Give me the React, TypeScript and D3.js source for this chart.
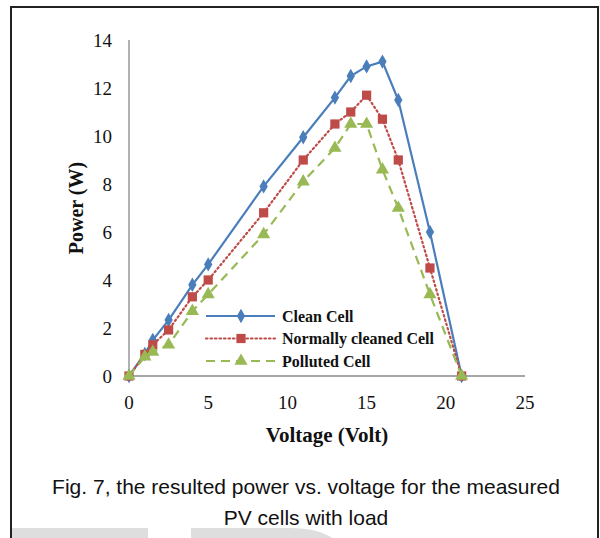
import * as d3 from 'd3';

const voltage = [0, 1, 1.5, 2.5, 4, 5, 8.5, 11, 13, 14, 15, 16, 17, 19, 21];
const cleanCell = [0, 0.92, 1.5, 2.33, 3.8, 4.65, 7.9, 9.95, 11.6, 12.5, 12.9, 13.1, 11.5, 6.0, 0];
const normallyCleaned = [0, 0.9, 1.3, 1.92, 3.3, 4.0, 6.8, 9.0, 10.5, 11.0, 11.7, 10.7, 9.0, 4.5, 0];
const pollutedCell = [0, 0.8, 1.0, 1.3, 2.7, 3.4, 5.9, 8.1, 9.5, 10.5, 10.5, 8.6, 7.0, 3.4, 0];

const xTicks = [0, 5, 10, 15, 20, 25];
const yTicks = [0, 2, 4, 6, 8, 10, 12, 14];

const seriesNames = ['Clean Cell', 'Normally cleaned Cell', 'Polluted Cell'];

const W = 600;
const H = 538;
const plot = { left: 129, right: 525, top: 40, bottom: 376 };

const serif = '"Liberation Serif", "Times New Roman", serif';
const sans = '"Liberation Sans", Arial, sans-serif';

type Pt = { x: number; y: number };

export default function App() {
  const x = d3.scaleLinear().domain([0, 25]).range([plot.left, plot.right]);
  const y = d3.scaleLinear().domain([0, 14]).range([plot.bottom, plot.top]);

  const toPts = (vals: number[]): Pt[] => vals.map((v, i) => ({ x: voltage[i], y: v }));
  const line = d3
    .line<Pt>()
    .x((d) => x(d.x))
    .y((d) => y(d.y));

  const series = [
    { name: seriesNames[0], data: toPts(cleanCell), color: '#4a7ebb', dash: '', cap: 'butt', marker: 'diamond' },
    { name: seriesNames[1], data: toPts(normallyCleaned), color: '#be4b48', dash: '1.5,3', cap: 'round', marker: 'square' },
    { name: seriesNames[2], data: toPts(pollutedCell), color: '#98b954', dash: '9,6', cap: 'butt', marker: 'triangle' },
  ];

  const markerPath = (kind: string) => {
    if (kind === 'diamond') return d3.symbol(d3.symbolDiamond, 60)();
    if (kind === 'square') return d3.symbol(d3.symbolSquare, 85)();
    return d3.symbol(d3.symbolTriangle, 75)();
  };

  return (
    <svg
      width={W}
      height={H}
      style={{ position: 'absolute', left: 0, top: 0, background: '#fff' }}
    >
      {/* faint watermark shapes at the bottom */}
      <rect x={12} y={528} width={136} height={10} fill="#dedede" />
      <path d="M191,538 V528 H290 Q318,528 332,538 Z" fill="#dedede" />

      {/* frame */}
      <path d={`M11,${H} V7 H598 V${H}`} fill="none" stroke="#222" strokeWidth={2} />

      {/* axes */}
      <line x1={plot.left} x2={plot.left} y1={plot.top} y2={plot.bottom} stroke="#888" strokeWidth={1.3} />
      <line x1={plot.left} x2={plot.right} y1={plot.bottom} y2={plot.bottom} stroke="#888" strokeWidth={1.3} />

      {yTicks.map((t) => (
        <text
          key={`y${t}`}
          x={112}
          y={y(t) + 6.5}
          textAnchor="end"
          fontFamily={serif}
          fontSize={19}
          fill="#111"
        >
          {t}
        </text>
      ))}
      {xTicks.map((t) => (
        <text
          key={`x${t}`}
          x={x(t)}
          y={409}
          textAnchor="middle"
          fontFamily={serif}
          fontSize={19}
          fill="#111"
        >
          {t}
        </text>
      ))}

      <text
        transform={`translate(83,${(plot.top + plot.bottom) / 2}) rotate(-90)`}
        textAnchor="middle"
        fontFamily={serif}
        fontWeight="bold"
        fontSize={20}
        fill="#111"
      >
        Power (W)
      </text>
      <text
        x={327}
        y={442}
        textAnchor="middle"
        fontFamily={serif}
        fontWeight="bold"
        fontSize={21}
        fill="#111"
      >
        Voltage (Volt)
      </text>

      {/* series */}
      {series.map((s) => (
        <g key={s.name}>
          <path
            d={line(s.data) ?? ''}
            fill="none"
            stroke={s.color}
            strokeWidth={2.2}
            strokeDasharray={s.dash}
            strokeLinecap={s.cap as 'butt' | 'round'}
          />
          {s.data.map((d, i) => (
            <path
              key={i}
              d={markerPath(s.marker) ?? ''}
              transform={`translate(${x(d.x)},${y(d.y)})`}
              fill={s.color}
            />
          ))}
        </g>
      ))}

      {/* legend */}
      {series.map((s, i) => {
        const ly = 316 + i * 22.5;
        return (
          <g key={`lg${s.name}`}>
            <line
              x1={206}
              x2={275}
              y1={ly}
              y2={ly}
              stroke={s.color}
              strokeWidth={2.2}
              strokeDasharray={s.dash}
              strokeLinecap={s.cap as 'butt' | 'round'}
            />
            <path d={markerPath(s.marker) ?? ''} transform={`translate(241,${ly})`} fill={s.color} />
            <text x={282} y={ly + 5.5} fontFamily={serif} fontWeight="bold" fontSize={16} fill="#111">
              {s.name}
            </text>
          </g>
        );
      })}

      {/* caption */}
      <text x={306} y={494} textAnchor="middle" fontFamily={sans} fontSize={21} fill="#111">
        Fig. 7, the resulted power vs. voltage for the measured
      </text>
      <text x={306} y={525} textAnchor="middle" fontFamily={sans} fontSize={21} fill="#111">
        PV cells with load
      </text>
    </svg>
  );
}
